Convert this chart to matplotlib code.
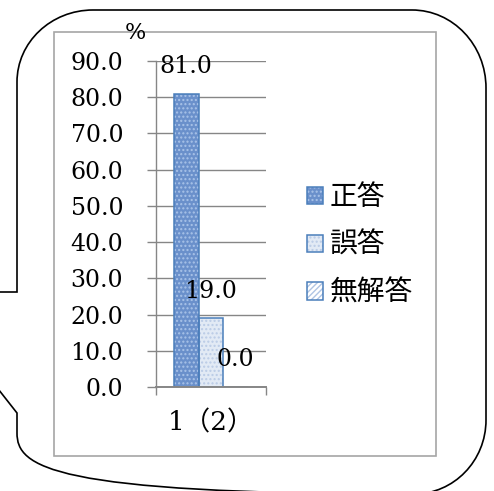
import matplotlib
matplotlib.use('Agg')
import matplotlib.pyplot as plt
from matplotlib.path import Path
from matplotlib.patches import PathPatch, Rectangle
from matplotlib.transforms import Affine2D
from matplotlib.legend_handler import HandlerTuple

categories = ['1（2）']
series = ['正答', '誤答', '無解答']
values = [81.0, 19.0, 0.0]
yticks = [0, 10, 20, 30, 40, 50, 60, 70, 80, 90]

plt.rcParams['font.family'] = ['DejaVu Serif', 'Noto Sans CJK JP']
plt.rcParams['hatch.linewidth'] = 1.0

W, H = 494, 491
fig = plt.figure(figsize=(W / 100, H / 100), dpi=100)
# pixel coords, y down from the top
px = Affine2D().scale(1 / W, -1 / H).translate(0, 1) + fig.transFigure

grey = '#868686'
fills = ['#6a90cb', '#e2eaf5', 'white']
hatch_cols = ['#a9c3e8', '#bacbe6', '#afc4e4']
hatches = ['....', '....', '//////']
edge = '#4a7ebb'

ax = fig.add_axes([156 / W, 1 - 387 / H, 110 / W, 326 / H])
ax.set_axisbelow(True)

width = 0.225
offsets = [-0.225, 0.0, 0.22]
handles = []
for i, name in enumerate(series):
    x = offsets[i]
    f = ax.bar(x, values[i], width, color=fills[i], edgecolor=hatch_cols[i],
               linewidth=0, hatch=hatches[i], zorder=1)
    o = ax.bar(x, values[i], width, fill=False, edgecolor=edge,
               linewidth=1.1, zorder=1.1)
    handles.append((f.patches[0], o.patches[0]))
    ax.annotate(f'{values[i]:.1f}', xy=(x, values[i]), xytext=(0, 19.5),
                textcoords='offset points', ha='center', va='center',
                fontsize=17, annotation_clip=False, zorder=3)

ax.set_ylim(0, 90)
ax.set_xlim(-0.5, 0.5)
ax.set_yticks(yticks, [f'{t:.1f}' for t in yticks])
ax.set_xticks([-0.5, 0.5], ['', ''])
ax.set_xticks([0], categories, minor=True)
ax.tick_params(axis='y', length=6.5, width=1, color=grey, pad=17, labelsize=17)
ax.tick_params(axis='x', which='major', length=5.8, width=1, color=grey)
ax.tick_params(axis='x', which='minor', length=0, pad=17, labelsize=19)
ax.yaxis.grid(True, color=grey, linewidth=1)
for s in ['top', 'right']:
    ax.spines[s].set_visible(False)
for s in ['left', 'bottom']:
    ax.spines[s].set_color(grey)
ax.spines['left'].set_linewidth(1)
ax.spines['bottom'].set_linewidth(1.4)

ax.legend(handles, series, handler_map={tuple: HandlerTuple(ndivide=1)},
          loc='center left', bbox_to_anchor=(307 / W, 1 - 245 / H),
          bbox_transform=fig.transFigure, frameon=False, borderpad=0,
          borderaxespad=0, handlelength=0.58, handleheight=0.58,
          handletextpad=0.25, labelspacing=0.64,
          prop={'family': 'Noto Sans CJK JP', 'size': 20})

# chart area frame
fig.add_artist(Rectangle((54, 32), 382, 424, transform=px, fill=False,
                         edgecolor='#a6a6a6', linewidth=1.2))
fig.text(135 / W, 1 - 33 / H, '%', ha='center', va='center', fontsize=16)

# speech bubble outline
k = 0.5523


def corner(a, c, b):
    return [(a[0] + k * (c[0] - a[0]), a[1] + k * (c[1] - a[1])),
            (b[0] + k * (c[0] - b[0]), b[1] + k * (c[1] - b[1])), b]


verts = [(-5, 292), (17, 292), (17, 82)]
codes = [Path.MOVETO, Path.LINETO, Path.LINETO]
verts += corner((17, 82), (17, 10), (93, 10)); codes += [Path.CURVE4] * 3
verts += [(412, 10)]; codes += [Path.LINETO]
verts += corner((412, 10), (486, 10), (486, 88)); codes += [Path.CURVE4] * 3
verts += [(486, 420)]; codes += [Path.LINETO]
verts += corner((486, 420), (486, 494), (414, 494)); codes += [Path.CURVE4] * 3
verts += [(90, 494)]; codes += [Path.LINETO]
verts += corner((90, 494), (17, 494), (17, 433)); codes += [Path.CURVE4] * 3
verts += [(17, 413), (-5, 385)]; codes += [Path.LINETO, Path.LINETO]
fig.add_artist(PathPatch(Path(verts, codes), transform=px, facecolor='none',
                         edgecolor='black', linewidth=1.2))

fig.savefig('out.png', dpi=100)
